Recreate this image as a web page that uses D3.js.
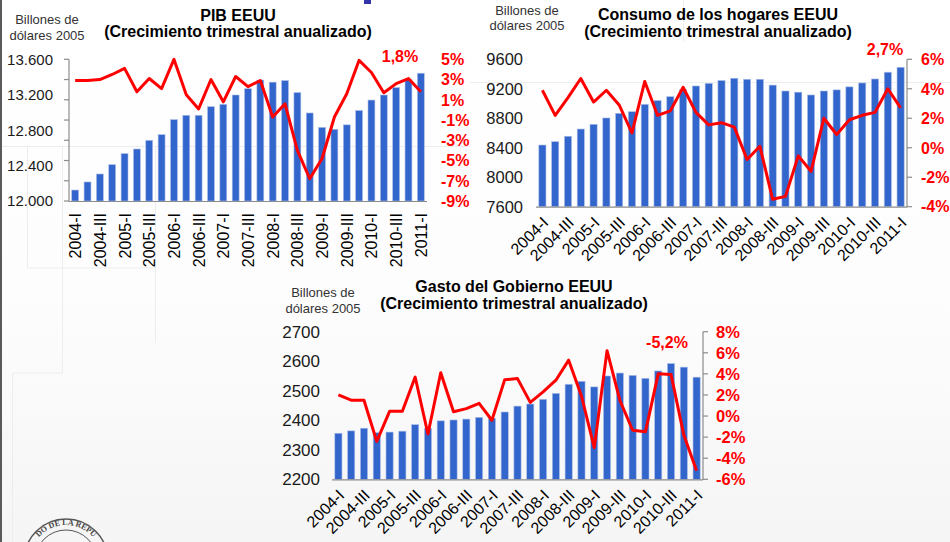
<!DOCTYPE html>
<html>
<head>
<meta charset="utf-8">
<script src="https://cdn.jsdelivr.net/npm/d3@7"></script>
<style>
  html, body { margin: 0; padding: 0; background: #fff; }
  svg { display: block; font-family: "Liberation Sans", Arial, sans-serif; }
</style>
</head>
<body>
<svg id="chart" width="950" height="542"></svg>
<script>
// trimestres 2004-I .. 2011-I
const quarters = [
  '2004-I', '2004-II', '2004-III', '2004-IV',
  '2005-I', '2005-II', '2005-III', '2005-IV',
  '2006-I', '2006-II', '2006-III', '2006-IV',
  '2007-I', '2007-II', '2007-III', '2007-IV',
  '2008-I', '2008-II', '2008-III', '2008-IV',
  '2009-I', '2009-II', '2009-III', '2009-IV',
  '2010-I', '2010-II', '2010-III', '2010-IV',
  '2011-I'];

// PIB: nivel (billones de dolares 2005) y crecimiento trimestral anualizado (%)
const pibNivel = [12124, 12215, 12305, 12410, 12535, 12587, 12685, 12749, 12919, 12968,
  12968, 13065, 13092, 13197, 13268, 13366, 13342, 13360, 13224, 12994,
  12832, 12810, 12860, 13022, 13140, 13197, 13281, 13370, 13443];
const pibCrec = [2.9, 2.9, 3.0, 3.5, 4.1, 1.8, 3.1, 2.1, 5.0, 1.5,
  0.1, 3.0, 0.8, 3.3, 2.3, 2.9, -0.7, 0.6, -4.0, -6.8,
  -4.8, -0.7, 1.6, 4.9, 3.7, 1.7, 2.6, 3.1, 1.8];

// Consumo de los hogares
const consumoNivel = [8437, 8482, 8556, 8654, 8718, 8804, 8867, 8889, 8989, 9040,
  9093, 9186, 9238, 9274, 9312, 9343, 9329, 9329, 9250, 9170,
  9154, 9116, 9170, 9185, 9226, 9279, 9333, 9425, 9492];
const consumoCrec = [3.9, 2.2, 3.4, 4.7, 3.1, 3.9, 2.9, 1.0, 4.5, 2.2,
  2.5, 4.1, 2.4, 1.55, 1.7, 1.4, -0.8, 0.1, -3.5, -3.3,
  -0.55, -1.6, 2.0, 0.9, 1.9, 2.2, 2.4, 4.0, 2.7];

// Gasto del Gobierno
const gastoNivel = [2356, 2364, 2373, 2358, 2360, 2363, 2385, 2373, 2398, 2401,
  2404, 2410, 2407, 2428, 2448, 2455, 2471, 2491, 2522, 2532,
  2513, 2550, 2560, 2552, 2542, 2567, 2592, 2580, 2546];
const gastoCrec = [2.0, 1.5, 1.5, -2.4, 0.45, 0.45, 3.7, -1.7, 4.1, 0.4,
  0.7, 1.2, -0.4, 3.45, 3.55, 1.3, 2.3, 3.4, 5.3, 1.9,
  -3.0, 6.2, 1.5, -1.35, -1.5, 4.0, 3.95, -1.8, -5.2];

// ticks de los ejes
const pibTicksIzq = [12000, 12400, 12800, 13200, 13600];
const pibTicksDer = [5, 3, 1, -1, -3, -5, -7, -9];
const consumoTicksIzq = [7600, 8000, 8400, 8800, 9200, 9600];
const consumoTicksDer = [6, 4, 2, 0, -2, -4];
const gastoTicksIzq = [2200, 2300, 2400, 2500, 2600, 2700];
const gastoTicksDer = [8, 6, 4, 2, 0, -2, -4, -6];

const esLocale = d3.formatLocale({
  decimal: ',', thousands: '.', grouping: [3], currency: ['', ''], minus: '-'
});
const fmtMiles = esLocale.format(',.0f');
const fmtPct = esLocale.format('.1f');

const BLUE = '#3366cc';
const RED = '#ff0000';

const svg = d3.select('#chart');

// fondo de la diapositiva
const defs = svg.append('defs');
const grad = defs.append('linearGradient')
  .attr('id', 'bg').attr('x1', 0).attr('y1', 0).attr('x2', 0).attr('y2', 1);
grad.append('stop').attr('offset', '0%').attr('stop-color', '#ffffff');
grad.append('stop').attr('offset', '55%').attr('stop-color', '#fdfdfd');
grad.append('stop').attr('offset', '100%').attr('stop-color', '#f5f5f5');
svg.append('rect').attr('width', 950).attr('height', 542).attr('fill', 'url(#bg)');

const deco = svg.append('g').attr('stroke', '#ededed').attr('stroke-width', 1).attr('fill', 'none');
deco.append('path').attr('d', 'M0,146.5H470');
deco.append('path').attr('d', 'M470,82.5H950');
deco.append('path').attr('d', 'M683.5,0V42');
deco.append('path').attr('d', 'M27.5,147V268H156');
deco.append('path').attr('d', 'M62.5,147V373H12.5V542');
deco.append('path').attr('d', 'M155.5,147V343');
svg.append('rect').attr('x', 0).attr('y', 0).attr('width', 2).attr('height', 542).attr('fill', '#5a5a5a');
svg.append('rect').attr('x', 364).attr('y', 0).attr('width', 7).attr('height', 4).attr('fill', '#3333aa');

// sello (solo se ve la parte de arriba)
const sello = svg.append('g').attr('fill', 'none').attr('stroke', '#555');
sello.append('circle').attr('cx', 66).attr('cy', 561).attr('r', 42).attr('stroke-width', 1.5);
sello.append('circle').attr('cx', 66).attr('cy', 561).attr('r', 31).attr('stroke-width', 1);
defs.append('path').attr('id', 'selloArc').attr('d', 'M30,561A36,36 0 0,1 102,561');
svg.append('text').attr('font-family', 'Liberation Serif, serif').attr('font-size', 8)
  .attr('font-weight', 'bold').attr('fill', '#444')
  .append('textPath').attr('href', '#selloArc').attr('startOffset', '50%')
  .attr('text-anchor', 'middle').text('DO DE LA REPU');

const panels = [
  {
    nivel: pibNivel, crec: pibCrec, ticksIzq: pibTicksIzq, ticksDer: pibTicksDer,
    fmtIzq: fmtMiles, titulo: 'PIB EEUU',
    x0: 69, x1: 427, yTop: 59.3, yBot: 201,
    ejeLado: 'left', izqX: 53, izqFont: 15, derX: 441, derFont: 16,
    rot: -90, titleX: 238, titleY: 20.7, unitX: 47, unitY: 24,
    annoX: 400, annoY: 61.5
  },
  {
    nivel: consumoNivel, crec: consumoCrec, ticksIzq: consumoTicksIzq, ticksDer: consumoTicksDer,
    fmtIzq: d3.format('d'), titulo: 'Consumo de los hogares EEUU',
    x0: 536, x1: 907, yTop: 59.3, yBot: 206.7,
    ejeLado: 'right', izqX: 523, izqFont: 16.5, derX: 921, derFont: 16,
    rot: -45, titleX: 718, titleY: 20.3, unitX: 527, unitY: 14.5,
    annoX: 885, annoY: 55
  },
  {
    nivel: gastoNivel, crec: gastoCrec, ticksIzq: gastoTicksIzq, ticksDer: gastoTicksDer,
    fmtIzq: d3.format('d'), titulo: 'Gasto del Gobierno EEUU',
    x0: 332, x1: 703, yTop: 331.7, yBot: 479.3,
    ejeLado: 'right', izqX: 320, izqFont: 17, derX: 716, derFont: 16.5,
    rot: -45, titleX: 514, titleY: 292, unitX: 323, unitY: 297,
    annoX: 667, annoY: 348
  }
];

panels.forEach(drawPanel);

function drawPanel(p) {
  const g = svg.append('g');

  const x = d3.scaleBand()
    .domain(quarters)
    .range([p.x0, p.x1])
    .paddingInner(0.44)
    .paddingOuter(0.22);
  const yIzq = d3.scaleLinear()
    .domain(d3.extent(p.ticksIzq))
    .range([p.yBot, p.yTop]);
  const yDer = d3.scaleLinear()
    .domain(d3.extent(p.ticksDer))
    .range([p.yBot, p.yTop]);
  const cx = q => x(q) + x.bandwidth() / 2;

  // titulo
  g.append('text')
    .attr('x', p.titleX).attr('y', p.titleY)
    .attr('text-anchor', 'middle')
    .attr('font-size', 16).attr('font-weight', 'bold').attr('fill', '#000')
    .text(p.titulo);
  g.append('text')
    .attr('x', p.titleX).attr('y', p.titleY + 16.5)
    .attr('text-anchor', 'middle')
    .attr('font-size', 16).attr('font-weight', 'bold').attr('fill', '#000')
    .text('(Crecimiento trimestral anualizado)');

  // unidades
  g.append('text')
    .attr('x', p.unitX).attr('y', p.unitY)
    .attr('text-anchor', 'middle').attr('font-size', 13).attr('fill', '#333')
    .text('Billones de');
  g.append('text')
    .attr('x', p.unitX).attr('y', p.unitY + 15.5)
    .attr('text-anchor', 'middle').attr('font-size', 13).attr('fill', '#333')
    .text('dólares 2005');

  // barras
  g.append('g').selectAll('rect')
    .data(quarters)
    .join('rect')
    .attr('x', d => x(d))
    .attr('width', x.bandwidth())
    .attr('y', (d, i) => yIzq(p.nivel[i]))
    .attr('height', (d, i) => p.yBot - yIzq(p.nivel[i]))
    .attr('fill', BLUE)
    .attr('stroke', '#aebfe8')
    .attr('stroke-width', 0.6);

  // linea base
  g.append('line')
    .attr('x1', p.x0).attr('x2', p.x1)
    .attr('y1', p.yBot + 0.5).attr('y2', p.yBot + 0.5)
    .attr('stroke', '#8c8c8c').attr('stroke-width', 1.2);

  // eje con marcas (en la escala de la derecha)
  const ejeX = p.ejeLado === 'left' ? p.x0 : p.x1;
  const dir = p.ejeLado === 'left' ? -1 : 1;
  g.append('line')
    .attr('x1', ejeX).attr('x2', ejeX)
    .attr('y1', p.yTop).attr('y2', p.yBot + 0.5)
    .attr('stroke', '#8c8c8c').attr('stroke-width', 1.2);
  g.append('g').selectAll('line')
    .data(p.ticksDer)
    .join('line')
    .attr('x1', ejeX).attr('x2', ejeX + dir * 5)
    .attr('y1', d => yDer(d)).attr('y2', d => yDer(d))
    .attr('stroke', '#8c8c8c').attr('stroke-width', 1.2);

  // etiquetas izquierda
  g.append('g').selectAll('text')
    .data(p.ticksIzq)
    .join('text')
    .attr('x', p.izqX)
    .attr('y', d => yIzq(d))
    .attr('dy', '0.36em')
    .attr('text-anchor', 'end')
    .attr('font-size', p.izqFont)
    .attr('fill', '#1a1a1a')
    .text(d => p.fmtIzq(d));

  // etiquetas derecha
  g.append('g').selectAll('text')
    .data(p.ticksDer)
    .join('text')
    .attr('x', p.derX)
    .attr('y', d => yDer(d))
    .attr('dy', '0.36em')
    .attr('font-size', p.derFont)
    .attr('font-weight', 'bold')
    .attr('fill', RED)
    .text(d => d + '%');

  // etiquetas de trimestres (uno si, uno no)
  g.append('g').selectAll('text')
    .data(quarters.filter((q, i) => i % 2 === 0))
    .join('text')
    .attr('transform', d => p.rot === -90
      ? 'translate(' + (cx(d) + 6) + ',' + (p.yBot + 12) + ') rotate(-90)'
      : 'translate(' + (cx(d) + 7) + ',' + (p.yBot + 17) + ') rotate(-45)')
    .attr('text-anchor', 'end')
    .attr('font-size', 16)
    .attr('fill', '#000')
    .text(d => d);

  // linea de crecimiento
  const line = d3.line()
    .x((d, i) => cx(quarters[i]))
    .y(d => yDer(d));
  g.append('path')
    .datum(p.crec)
    .attr('d', line)
    .attr('fill', 'none')
    .attr('stroke', RED)
    .attr('stroke-width', 3)
    .attr('stroke-linejoin', 'round');

  // ultimo dato
  g.append('text')
    .attr('x', p.annoX).attr('y', p.annoY)
    .attr('text-anchor', 'middle')
    .attr('font-size', 16).attr('font-weight', 'bold').attr('fill', RED)
    .text(fmtPct(p.crec[p.crec.length - 1]) + '%');
}
</script>
</body>
</html>
